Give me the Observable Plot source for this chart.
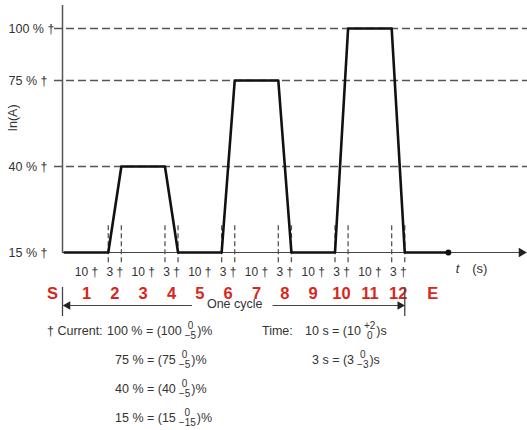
<!DOCTYPE html>
<html>
<head>
<meta charset="utf-8">
<script src="https://cdn.jsdelivr.net/npm/d3@7"></script>
<script src="https://cdn.jsdelivr.net/npm/@observablehq/plot@0.6"></script>
<style>
  html, body { margin: 0; padding: 0; background: #fff; }
  #wrap { position: relative; width: 527px; height: 430px; font-family: "Liberation Sans", Arial, sans-serif; color: #333; overflow: hidden; }
  .fn { position: absolute; height: 22px; display: flex; align-items: center; font-size: 12.5px; white-space: pre; }
  .stk { display: inline-flex; flex-direction: column; align-items: center; font-size: 10px; line-height: 10px; margin: 0 1px 0 3px; }
</style>
</head>
<body>
<div id="wrap"></div>
<script>
// ---- data ----
const levels = [15, 40, 75, 100];
const levelLabels = ["15 % †", "40 % †", "75 % †", "100 % †"];
const gridLevels = [40, 75, 100];
// the chart is schematic: spacing of the level lines (px above the 15 % line)
const levelSpacing = [0, 86, 172, 224];

const phaseDurations = [10, 3, 10, 3, 10, 3, 10, 3, 10, 3, 10, 3];
const durationLabels = ["10 †", "3 †", "10 †", "3 †", "10 †", "3 †", "10 †", "3 †", "10 †", "3 †", "10 †", "3 †"];
const phaseLabels = ["1", "2", "3", "4", "5", "6", "7", "8", "9", "10", "11", "12"];
const startLabel = "S", startLabelTime = -2.8;
const endLabel = "E", endLabelTime = 84.4;

const profileTimes  = [0, 10, 13, 23, 26, 36, 39, 49, 52, 62, 65, 75, 78, 88];
const profileLevels = [15, 15, 40, 40, 15, 15, 75, 75, 15, 15, 100, 100, 15, 15];

const cycleLabel = "One cycle";
const axisYLabel = "In(A)";

// ---- derived tables ----
const bounds = Array.from(d3.cumsum(phaseDurations));
const starts = [0, ...bounds.slice(0, -1)];
const cycleEnd = bounds[bounds.length - 1];
const segments = phaseDurations.map((d, i) => ({ mid: starts[i] + d / 2, dur: durationLabels[i], phase: phaseLabels[i] }));
const phaseMarks = [{ t: startLabelTime, label: startLabel }, ...segments.map(s => ({ t: s.mid, label: s.phase })), { t: endLabelTime, label: endLabel }];
const profile = profileTimes.map((t, i) => ({ t, level: profileLevels[i] }));
const cycleMid = cycleEnd / 2;
const levelWarp = d3.scaleLinear().domain(levels).range(levelSpacing);

const ink = "#333";
const red = "#d8261d";

const chart = Plot.plot({
  width: 527,
  height: 320,
  marginLeft: 62,
  marginRight: 0,
  marginTop: 5,
  marginBottom: 68,
  style: { fontFamily: "'Liberation Sans', Arial, sans-serif", fontSize: "12.5px", color: ink, background: "white", overflow: "visible" },
  x: { domain: [-0.5, 106.15], axis: null },
  y: { domain: [0, 247], transform: levelWarp, axis: null },
  marks: [
    // dashed level lines
    Plot.ruleY(gridLevels, { stroke: "#555", strokeWidth: 1.4, strokeDasharray: "8,4", insetLeft: -8 }),
    // level labels
    Plot.text(levels, { y: d => d, text: (d, i) => levelLabels[i], frameAnchor: "left", textAnchor: "start", dx: -54, fontSize: 12.5, fill: ink }),
    // y axis
    Plot.ruleX([-0.5], { stroke: "#555", strokeWidth: 1.5 }),
    Plot.text([axisYLabel], { frameAnchor: "left", textAnchor: "middle", dx: -50, dy: -11, rotate: -90, fontSize: 12.5, fill: ink }),
    // time axis + arrowhead
    Plot.ruleY([15], { stroke: "#444", strokeWidth: 1, insetRight: 6 }),
    Plot.dot([15], { y: d => d, frameAnchor: "right", dx: -6, symbol: "triangle", rotate: 90, r: 3.5, fill: "#222" }),
    // dashed ramp edges
    Plot.ruleX(bounds, { y1: 12, y2: 23, stroke: "#555", strokeWidth: 1.3, strokeDasharray: "5,3" }),
    // waveform
    Plot.line(profile, { x: "t", y: "level", stroke: "#111", strokeWidth: 2.6 }),
    Plot.dot([profile[profile.length - 1]], { x: "t", y: "level", r: 3, fill: "#111" }),
    // duration labels
    Plot.text(segments, { x: "mid", text: "dur", frameAnchor: "bottom", lineAnchor: "middle", dy: 20, fontSize: 12, fill: ink }),
    Plot.text(["t"], { x: () => 90.1, frameAnchor: "bottom", lineAnchor: "middle", dy: 16, fontStyle: "italic", fontSize: 13, fill: ink }),
    Plot.text(["(s)"], { x: () => 95.2, frameAnchor: "bottom", lineAnchor: "middle", dy: 16, fontSize: 13, fill: ink }),
    // red phase labels
    Plot.text(phaseMarks, { x: "t", text: "label", frameAnchor: "bottom", lineAnchor: "middle", dy: 41, fontSize: 16.5, fontWeight: "bold", fill: red }),
    // one cycle arrow
    Plot.ruleX([-0.5, cycleEnd], { stroke: "#444", strokeWidth: 1.3, insetTop: 282, insetBottom: -64 }),
    Plot.ruleY([{ x1: 0, x2: cycleMid - 9.7 }, { x1: cycleMid + 8.8, x2: cycleEnd - 0.5 }], { x1: "x1", x2: "x2", y: () => 15, dy: 53, stroke: "#444", strokeWidth: 1.2 }),
    Plot.dot([{ t: 0.7, r: -90 }, { t: cycleEnd - 1.1, r: 90 }], { x: "t", y: () => 15, dy: 53, rotate: "r", symbol: "triangle", r: 3.2, fill: "#222" }),
    Plot.text([cycleLabel], { x: () => cycleMid, frameAnchor: "bottom", lineAnchor: "middle", dy: 51, fontSize: 12.5, fill: ink })
  ]
});

const wrap = document.getElementById("wrap");
wrap.appendChild(chart);

// ---- footnote (tolerances) ----
const currentRows = [
  { head: "† Current:", main: "100 % = (100", up: "0", down: "−5", tail: ")%" },
  { head: "", main: "75 % = (75", up: "0", down: "−5", tail: ")%" },
  { head: "", main: "40 % = (40", up: "0", down: "−5", tail: ")%" },
  { head: "", main: "15 % = (15", up: "0", down: "−15", tail: ")%" }
];
const timeRows = [
  { head: "Time:", main: "10 s = (10", up: "+2", down: "0", tail: ")s" },
  { head: "", main: "3 s = (3", up: "0", down: "−3", tail: ")s" }
];
const rowTops = [320, 349, 378, 407];
const currentMainLeft = [107, 115, 115, 115];
const timeMainLeft = [305, 312];

function addRow(row, left, top) {
  const d = document.createElement("div");
  d.className = "fn";
  d.style.left = left + "px";
  d.style.top = top + "px";
  const a = document.createElement("span"); a.textContent = row.main; d.appendChild(a);
  const s = document.createElement("span"); s.className = "stk";
  const u = document.createElement("span"); u.textContent = row.up;
  const l = document.createElement("span"); l.textContent = row.down;
  s.appendChild(u); s.appendChild(l); d.appendChild(s);
  const b = document.createElement("span"); b.textContent = row.tail; d.appendChild(b);
  wrap.appendChild(d);
}
function addHead(text, left, top) {
  const d = document.createElement("div");
  d.className = "fn";
  d.style.left = left + "px";
  d.style.top = top + "px";
  d.textContent = text;
  wrap.appendChild(d);
}
currentRows.forEach((r, i) => { addRow(r, currentMainLeft[i], rowTops[i]); if (r.head) addHead(r.head, 47, rowTops[i]); });
timeRows.forEach((r, i) => { addRow(r, timeMainLeft[i], rowTops[i]); if (r.head) addHead(r.head, 262, rowTops[i]); });
</script>
</body>
</html>
